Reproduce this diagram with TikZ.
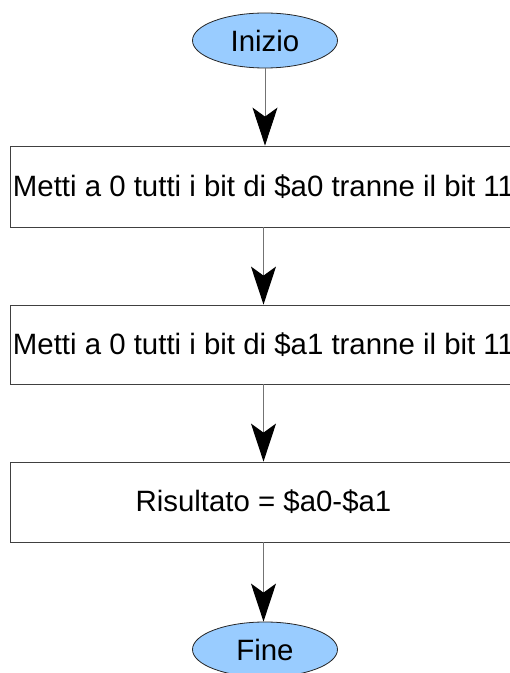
\documentclass[tikz,border=0pt]{standalone}
\usepackage{fontspec}
\setmainfont{Liberation Sans}
\usetikzlibrary{shapes.geometric,arrows.meta}
\begin{document}
\begin{tikzpicture}[x=1pt,y=1pt,
  terminal/.style={ellipse,draw=black!85,line width=0.8pt,
    fill={rgb,255:red,153;green,204;blue,255},minimum width=145pt,minimum height=55pt,inner sep=0pt},
  stepbox/.style={rectangle,draw=black!75,line width=0.8pt,minimum width=506pt,inner sep=0pt},
  flow/.style={draw=black!55,line width=1pt,-{Stealth[length=38pt,width=25pt,inset=9pt,black]}},
  every node/.style={font=\fontsize{29.4}{34}\selectfont}]
\useasboundingbox (0,0) rectangle (510,673);
\clip (0,0) rectangle (510,673);
\node[terminal] (start) at (265,632.5) {Inizio};
\node[stepbox,minimum height=81pt] (s1) at (263.5,486.5) {Metti a 0 tutti i bit di \$a0 tranne il bit 11};
\node[stepbox,minimum height=79pt] (s2) at (263.5,328.5) {Metti a 0 tutti i bit di \$a1 tranne il bit 11};
\node[stepbox,minimum height=80pt] (s3) at (263.5,171) {Risultato = \$a0-\$a1};
\node[terminal] (stop) at (265,23.5) {Fine};
\draw[flow] (start.south) -- (start.south |- s1.north);
\draw[flow] (s1.south) -- (s2.north);
\draw[flow] (s2.south) -- (s3.north);
\draw[flow] (s3.south) -- (s3.south |- stop.north);
\end{tikzpicture}
\end{document}
